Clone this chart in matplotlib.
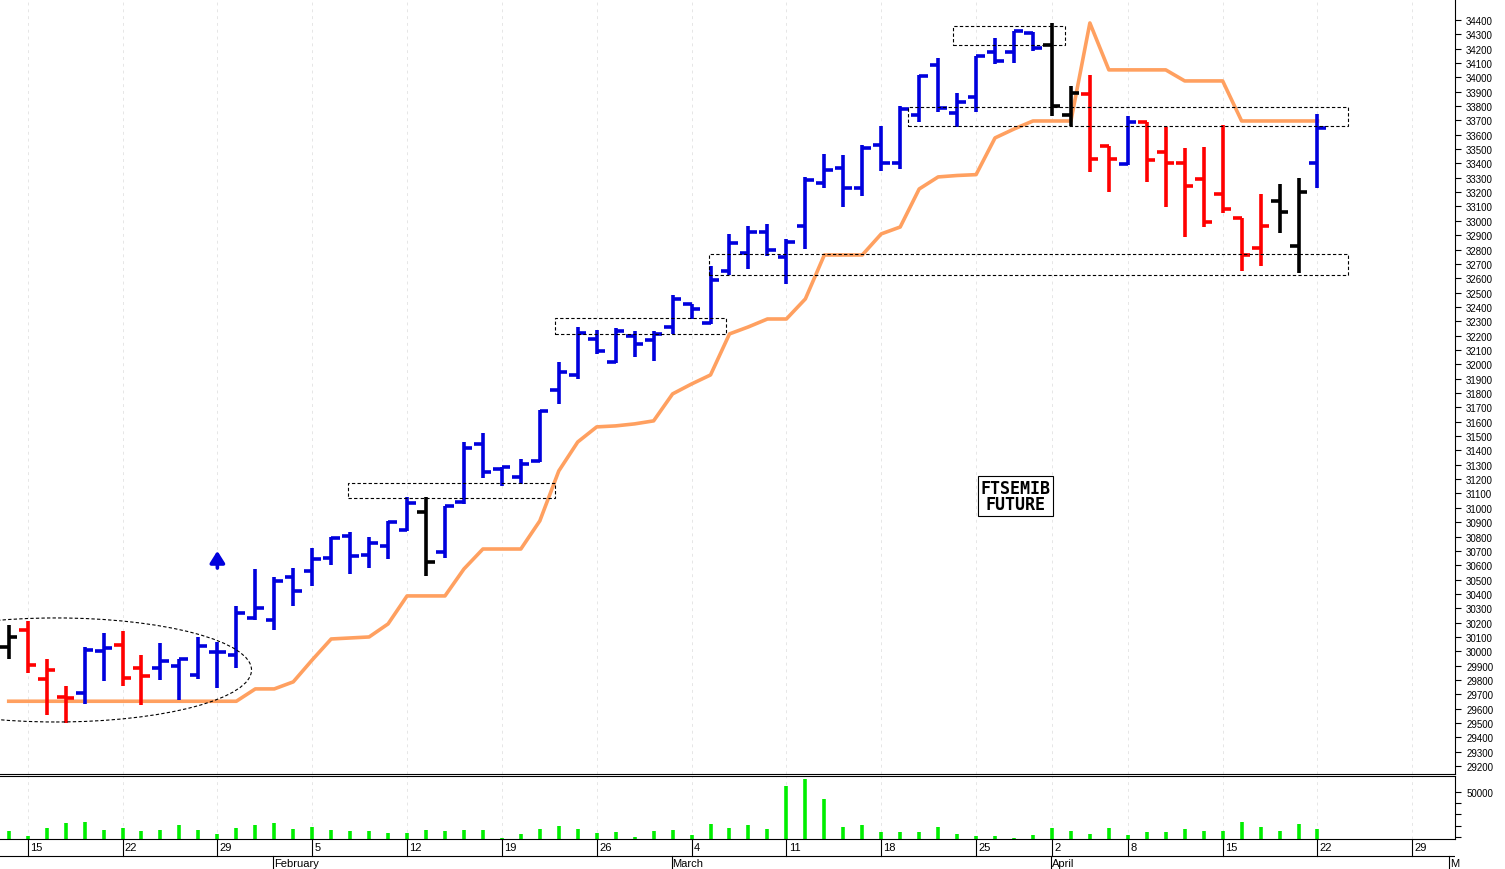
import matplotlib
matplotlib.use("Agg")
import matplotlib.pyplot as plt
from matplotlib.patches import Rectangle, Ellipse
import numpy as np

plt.rcParams['font.family'] = ['Liberation Sans', 'DejaVu Sans']

# trading-day index 0 = Jan 12 2024 ... 69 = Apr 22 2024
opens = [30030,30151,29808,29679,29710,30000,30045,29884,29886,29895,29836,29998,29973,30233,30221,30516,30558,30649,30802,30672,
         30733,30844,30974,30691,31039,31445,31271,31213,31329,31822,31926,32177,32015,32200,32172,32259,32421,32288,32653,32777,
         32921,32746,32967,33262,33366,33227,33529,33403,33738,34086,33752,33861,34175,34179,34309,34226,33738,33884,33520,33397,
         33687,33477,33403,33292,33187,33018,32809,33141,32823,33403]
highs = [30184,30214,29943,29761,30028,30126,30144,29977,30061,29943,30098,30063,30314,30574,30516,30579,30721,30795,30834,30795,
         30907,31074,31074,31016,31457,31522,31283,31341,31685,32019,32259,32242,32252,32235,32235,32484,32421,32688,32906,32965,
         32978,32874,33304,33466,33459,33529,33664,33803,34019,34133,33891,34151,34272,34325,34318,34379,33938,34017,33520,33733,
         33687,33652,33506,33513,33670,33018,33187,33257,33297,33745]
lows = [29947,29849,29559,29501,29634,29796,29761,29627,29803,29663,29808,29743,29881,30221,30151,30319,30454,30602,30539,30581,
        30640,30841,30528,30649,31030,31206,31150,31167,31322,31725,31897,32072,32010,32051,32026,32212,32316,32282,32623,32665,
        32758,32560,32805,33227,33095,33171,33350,33362,33691,33761,33652,33757,34093,34100,34186,33729,33659,33339,33204,33390,
        33269,33095,32886,32955,33055,32653,32683,32916,32637,33227]
closes = [30100,29905,29873,29673,30009,30021,29812,29826,29935,29943,30040,29998,30267,30300,30493,30419,30640,30790,30663,30756,
          30900,31032,30621,31011,31415,31253,31283,31306,31678,31947,32219,32091,32231,32142,32212,32452,32386,32590,32846,32921,
          32795,32851,33288,33357,33231,33506,33403,33780,34012,33785,33827,34151,34112,34325,34203,33803,33891,33432,33431,33687,
          33427,33403,33245,32990,33083,32763,32967,33064,33204,33645]
bar_colors = ['k','r','r','r','b','b','r','r','b','b','b','b','b','b','b','b','b','b','b','b',
              'b','b','k','b','b','b','b','b','b','b','b','b','b','b','b','b','b','b','b','b',
              'b','b','b','b','b','b','b','b','b','b','b','b','b','b','b','k','k','r','r','b',
              'r','r','r','r','r','r','r','k','k','b']
stop_line = [29652,29652,29652,29652,29652,29652,29652,29652,29652,29652,29652,29652,29652,29738,29738,29787,29940,30086,30093,30100,
             30191,30386,30386,30386,30574,30713,30713,30713,30909,31257,31459,31564,31571,31585,31606,31794,31863,31926,32212,32261,
             32316,32316,32456,32762,32762,32762,32909,32957,33222,33306,33316,33322,33578,33640,33696,33696,33696,34379,34052,34052,
             34052,34052,33975,33975,33975,33696,33696,33696,33696,33696]
volumes = [15600,11200,17700,22400,23500,16500,18200,15300,15900,20900,16200,12900,17700,20900,22400,16800,18600,16200,15000,15300,
           13600,13600,15900,15300,16200,15900,8900,12700,17100,19500,16800,13600,14400,10000,15000,16200,11500,21500,17700,20600,
           16800,54700,61200,43300,18600,20600,14200,14200,14200,18600,12400,11200,10600,9100,11500,18000,15300,12400,18200,11800,
           14400,14400,16800,15300,15000,23300,18600,15300,21500,16800]
day_ticks = [1,6,11,16,21,26,31,36,41,46,51,55,59,64,69,74]
day_labels = ['15','22','29','5','12','19','26','4','11','18','25','2','8','15','22','29']
month_pos = [14,35,55,76]
month_labels = ['February','March','April','M']

n = len(opens)
x = np.arange(n)
cmap = {'k': 'black', 'r': '#ff0000', 'b': '#0000dd'}
cols = [cmap[c] for c in bar_colors]

fig = plt.figure(figsize=(15.05, 8.7), dpi=100)
W, H = 1505, 870
axm = fig.add_axes([0, 1 - 775/H, 1455/W, 775/H])
axv = fig.add_axes([0, 1 - 840/H, 1455/W, 63/H])
axd = fig.add_axes([0, 0, 1455/W, 30/H])

xl = (-0.46, 76.25)
for a in (axm, axv, axd):
    a.set_xlim(*xl)
    if a is not axd:
        for gx in day_ticks:
            a.axvline(gx, color='#e6e6e6', lw=0.7, ls=(0, (3, 4)), zorder=0)

# main price panel
axm.plot(x, stop_line, color='#ffa060', lw=2.6, zorder=2)
axm.vlines(x, lows, highs, colors=cols, lw=2.6, zorder=3)
axm.hlines(opens, x - 0.45, x, colors=cols, lw=2.6, zorder=3)
axm.hlines(closes, x, x + 0.45, colors=cols, lw=2.6, zorder=3)
axm.set_ylim(29145, 34546)
axm.yaxis.tick_right()
axm.set_yticks(np.arange(29200, 34401, 100))
axm.tick_params(axis='y', labelsize=7, length=4, pad=4)
axm.set_xticks([])
for s in ('left', 'top'):
    axm.spines[s].set_visible(False)

boxes = [(49.8, 34226, 5.9, 132), (47.4, 33661, 23.2, 133), (36.9, 32623, 33.7, 146),
         (28.8, 32212, 9.0, 111), (17.9, 31069, 10.9, 104)]
for bx, by, bw, bh in boxes:
    axm.add_patch(Rectangle((bx, by), bw, bh, fill=False, ec='black', lw=0.8, ls=(0, (3, 2)), zorder=4))
axm.add_patch(Ellipse((2.5, 29870), 20.6, 725, fill=False, ec='black', lw=0.8, ls=(0, (3, 2)), zorder=4))
axm.annotate('', xy=(11, 30700), xytext=(11, 30580),
             arrowprops=dict(arrowstyle='-|>,head_width=0.22,head_length=0.35', color='#0000dd', lw=2.6,
                             mutation_scale=20, shrinkA=0, shrinkB=0))
axm.text(53.1, 31083, 'FTSEMIB\nFUTURE', ha='center', va='center', fontsize=12, fontweight='bold',
         family='DejaVu Sans Mono', linespacing=0.9,
         bbox=dict(boxstyle='square,pad=0.15', fc='white', ec='black', lw=0.8))

# volume panel
axv.vlines(x, 0, volumes, colors='#00ee00', lw=2.6)
axv.set_ylim(8260, 63900)
axv.yaxis.tick_right()
axv.set_yticks([10000, 20000, 30000, 40000, 50000])
axv.set_yticklabels(['', '', '', '', '50000'])
axv.tick_params(axis='y', labelsize=7, length=4, pad=4)
axv.set_xticks([])
axv.spines['left'].set_visible(False)

# date axis
axd.set_ylim(0, 30)
axd.axis('off')
axd.axhline(13, color='black', lw=0.8)
for t, lab in zip(day_ticks, day_labels):
    axd.plot([t, t], [13, 30], color='black', lw=0.8)
    axd.text(t + 0.12, 21.5, lab, fontsize=8, va='center', ha='left')
for t, lab in zip(month_pos, month_labels):
    axd.plot([t - 0.05, t - 0.05], [0, 13], color='black', lw=0.8)
    axd.text(t + 0.0, 6, lab, fontsize=8, va='center', ha='left')

fig.savefig('out.png', dpi=100)
